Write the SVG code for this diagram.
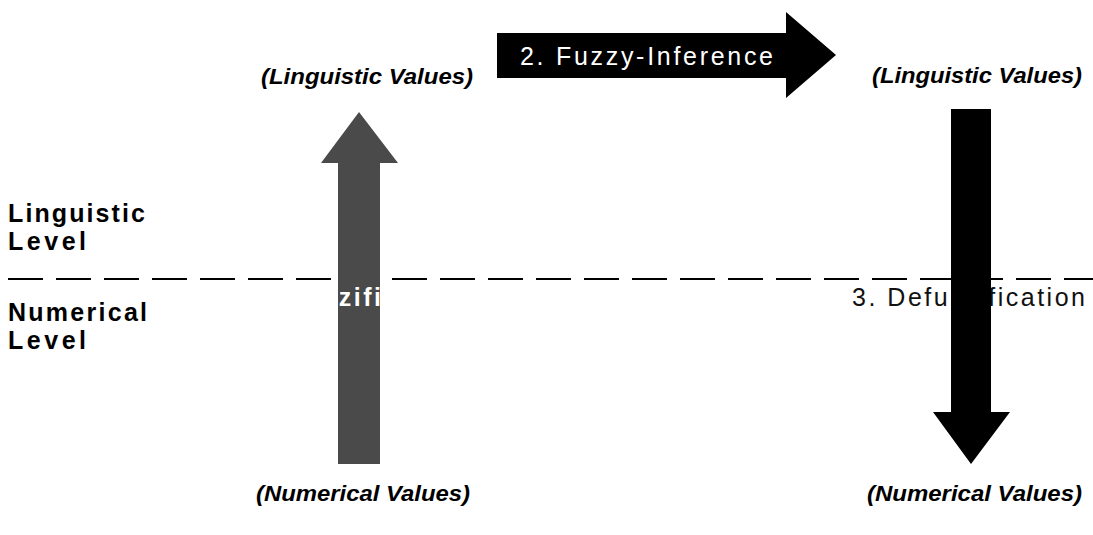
<svg xmlns="http://www.w3.org/2000/svg" width="1093" height="535" viewBox="0 0 1093 535">
<style>
.lvl{font-family:"Liberation Sans",Arial,sans-serif;font-weight:bold;font-size:25px;fill:#000}
.val{font-family:"Liberation Sans",Arial,sans-serif;font-weight:bold;font-style:italic;font-size:22px;fill:#000}
.step{font-family:"Liberation Sans",Arial,sans-serif;font-size:25px}
.sep{stroke:#000;stroke-width:2;stroke-dasharray:35 13;fill:none}
</style>
<rect width="1093" height="535" fill="#fff"/>
<g id="separator">
<line class="sep" x1="8" y1="279" x2="1093" y2="279"/>
</g>
<g id="linguistic-level">
<text class="lvl" x="8" y="222" textLength="137" lengthAdjust="spacing">Linguistic</text>
<text class="lvl" x="8" y="250" textLength="78" lengthAdjust="spacing">Level</text>
</g>
<g id="numerical-level">
<text class="lvl" x="8" y="321" textLength="139" lengthAdjust="spacing">Numerical</text>
<text class="lvl" x="8" y="349" textLength="78" lengthAdjust="spacing">Level</text>
</g>
<g id="linguistic-values-left">
<text class="val" x="261" y="84" textLength="212" lengthAdjust="spacingAndGlyphs">(Linguistic Values)</text>
</g>
<g id="linguistic-values-right">
<text class="val" x="872" y="83" textLength="210" lengthAdjust="spacingAndGlyphs">(Linguistic Values)</text>
</g>
<g id="numerical-values-left">
<text class="val" x="256" y="501" textLength="214" lengthAdjust="spacingAndGlyphs">(Numerical Values)</text>
</g>
<g id="numerical-values-right">
<text class="val" x="867" y="501" textLength="215" lengthAdjust="spacingAndGlyphs">(Numerical Values)</text>
</g>
<g id="connectors">
<g id="fuzzification">
<polygon points="338,464 338,163 321,163 359,112 398,163 380,163 380,464" fill="#4a4a4a"/>
<text class="step" x="253" y="306" fill="#fff" font-weight="bold" letter-spacing="2.5">1. Fuzzification</text>
</g>
<g id="fuzzy-inference">
<polygon points="497,33 786,33 786,12 836,55 786,98 786,78 497,78" fill="#000"/>
<text class="step" x="520" y="65" fill="#fff" textLength="253" lengthAdjust="spacing">2. Fuzzy-Inference</text>
</g>
<g id="defuzzification">
<text class="step" x="852" y="306" fill="#111" textLength="233" lengthAdjust="spacing">3. Defuzzification</text>
<polygon points="951,109 991,109 991,412 1010,412 971,464 933,412 951,412" fill="#000"/>
</g>
</g>
</svg>
